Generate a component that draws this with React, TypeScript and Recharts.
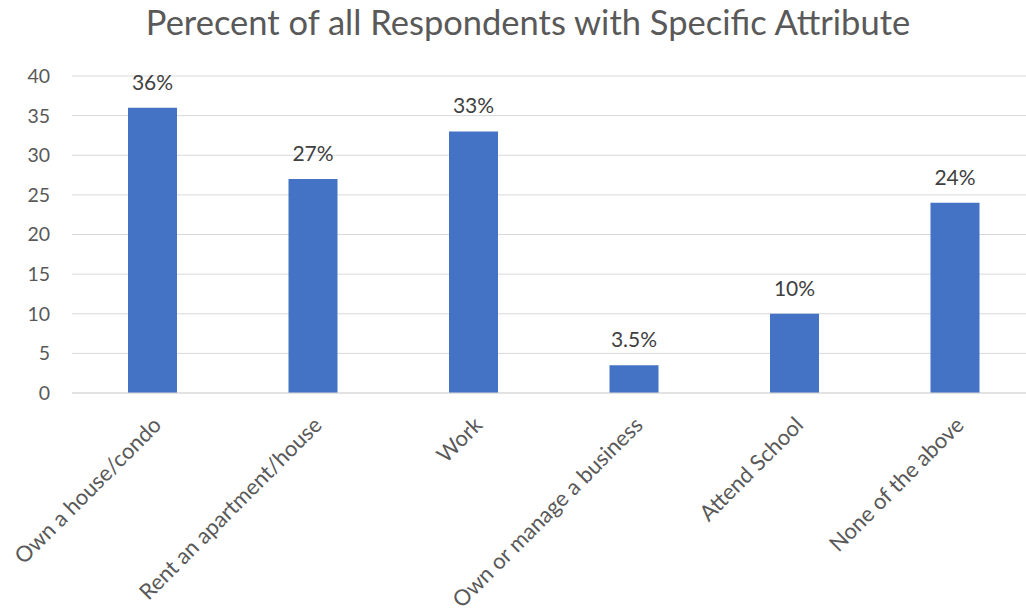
import { BarChart, Bar, XAxis, YAxis, CartesianGrid, LabelList } from "recharts"

const categories = [
    "Own a house/condo",
    "Rent an apartment/house",
    "Work",
    "Own or manage a business",
    "Attend School",
    "None of the above",
]
const percents = [36, 27, 33, 3.5, 10, 24]
const yTicks = [0, 5, 10, 15, 20, 25, 30, 35, 40]

const data = categories.map((name, i) => ({ name, value: percents[i] }))

const FONT = "Lato, 'Open Sans', sans-serif"

function AngledTick(props: any) {
    const { x, y, payload } = props
    return (
        <g transform={`translate(${x + 5},${y + 20})`}>
            <text
                textAnchor="end"
                transform="rotate(-45)"
                fill="#595959"
                fontSize={22}
                fontFamily={FONT}
                dy="0.35em"
            >
                {payload.value}
            </text>
        </g>
    )
}

export default function App() {
    return (
        <div style={{ position: "absolute", left: 0, top: 0, width: 1026, height: 611, overflow: "hidden", background: "#fff" }}>
            <div
                style={{
                    position: "absolute",
                    top: 1,
                    left: 0,
                    width: 1056,
                    textAlign: "center",
                    fontFamily: FONT,
                    fontSize: 34.5,
                    color: "#595959",
                }}
            >
                Perecent of all Respondents with Specific Attribute
            </div>
            <BarChart
                width={1040}
                height={611}
                data={data}
                margin={{ top: 76, right: 5, bottom: 0, left: 0 }}
                barCategoryGap="0%"
            >
                <CartesianGrid vertical={false} stroke="#d9d9d9" />
                <XAxis
                    dataKey="name"
                    interval={0}
                    height={218}
                    tick={<AngledTick />}
                    tickLine={false}
                    axisLine={{ stroke: "#d9d9d9" }}
                />
                <YAxis
                    width={72}
                    domain={[0, 40]}
                    ticks={yTicks}
                    tickLine={false}
                    axisLine={false}
                    tickSize={0}
                    tickMargin={22}
                    tick={{ fill: "#595959", fontSize: 19.5, fontFamily: FONT }}
                />
                <Bar dataKey="value" fill="#4472C4" barSize={49} isAnimationActive={false}>
                    <LabelList
                        dataKey="value"
                        position="top"
                        offset={18}
                        formatter={(v: any) => `${v}%`}
                        fill="#404040"
                        fontSize={21}
                        fontFamily={FONT}
                    />
                </Bar>
            </BarChart>
        </div>
    )
}
